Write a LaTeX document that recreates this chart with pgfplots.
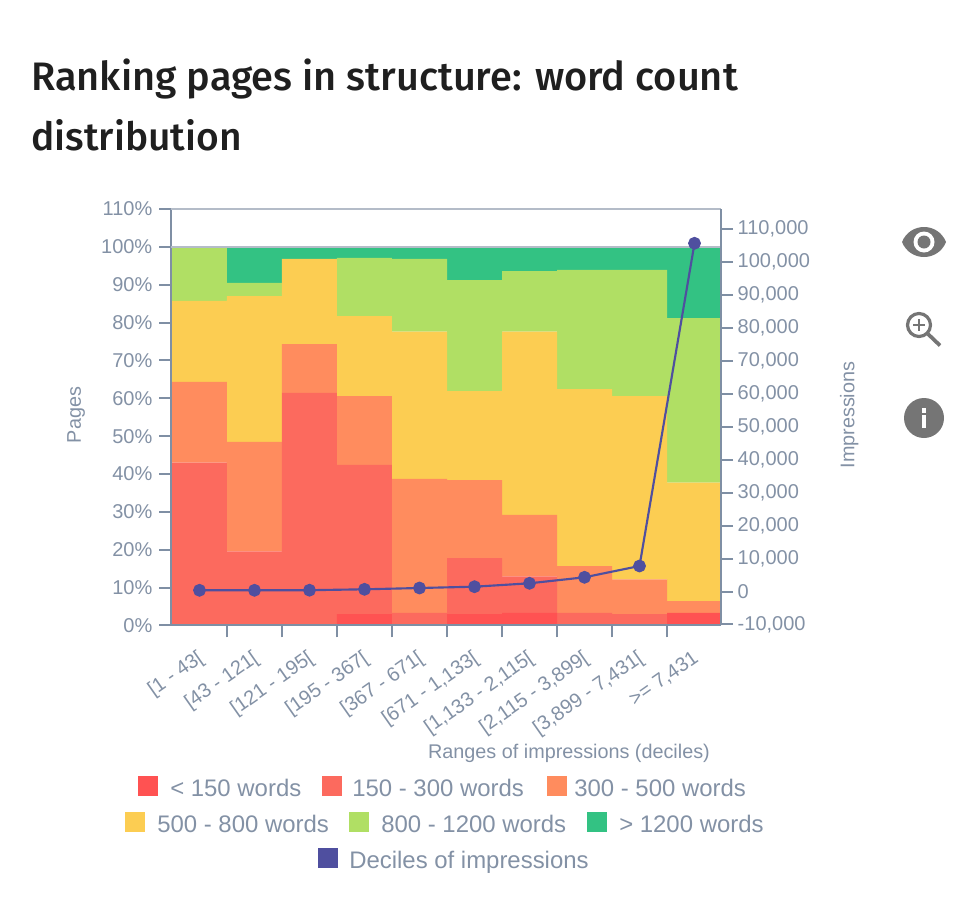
\documentclass[border=0pt]{standalone}
\usepackage{fontspec}
\setmainfont{Liberation Sans}
\newfontfamily\titlefont{Fira Sans Medium}
\usepackage{pgfplots}
\usepackage{pgfplotstable}
\pgfplotsset{compat=1.18}

\definecolor{axiscol}{HTML}{7F8FA4}
\definecolor{gridcol}{HTML}{B4BCC8}
\definecolor{textcol}{HTML}{8391A5}
\definecolor{iconcol}{HTML}{757575}
\definecolor{ca}{HTML}{FF5252}
\definecolor{cb}{HTML}{FC6A5E}
\definecolor{cc}{HTML}{FF8C5E}
\definecolor{cd}{HTML}{FCCD52}
\definecolor{ce}{HTML}{B0DF64}
\definecolor{cf}{HTML}{33C283}
\definecolor{cl}{HTML}{4F4F9F}

% shares per decile, percent of pages
\pgfplotstableread{
x a b c d e f
0 0 43.0 21.3 21.4 14.3 0
1 0 19.6 28.9 38.5 3.5 9.5
2 0 61.4 12.9 22.5 0 3.2
3 3.0 39.4 18.2 21.1 15.4 2.9
4 0 3.3 35.4 38.9 19.2 3.2
5 3.0 14.8 20.6 23.5 29.3 8.8
6 3.3 9.7 16.2 48.4 16.0 6.4
7 0 3.3 12.4 46.7 31.5 6.1
8 0 3.0 9.2 48.4 33.3 6.1
9 3.3 0 3.1 31.3 43.5 18.8
}\shares

\pgfplotstableread{
x v
0 370
1 370
2 400
3 670
4 1065
5 1460
6 2490
7 4310
8 7740
9 105610
}\deciles

\pgfplotsset{
  common/.style={
    scale only axis, width=412.5pt, height=312.4pt,
    at={(128.25pt,-469.1pt)}, anchor=south west,
    xmin=-0.518, xmax=9.482,
    tick align=outside,
    major tick length=9pt,
    axis line style={draw=axiscol,line width=1.5pt,-},
    every tick/.style={draw=axiscol,line width=1.5pt},
    tick label style={font=\fontsize{15}{17}\selectfont,text=textcol},
    label style={font=\fontsize{14.85}{17}\selectfont,text=textcol},
    /pgf/number format/assume math mode=true,
  },
}

\begin{document}
\begin{tikzpicture}
\begin{scope}[x=0.75pt,y=-0.75pt]
  \path[use as bounding box] (0,0) rectangle (980,918);
\end{scope}

\begin{axis}[common,
  ybar stacked, bar width=1,
  axis on top,
  axis y line*=left, axis x line*=bottom,
  ymin=0, ymax=110,
  ytick={0,10,20,30,40,50,60,70,80,90},
  yticklabel style={xshift=-1.5pt},
  extra y ticks={100,110},
  extra y tick style={ymajorgrids=true,major grid style={draw=gridcol,line width=1.5pt}},
  yticklabel={\pgfmathprintnumber{\tick}\%},
  extra y tick labels={100\%,110\%},
  xtick={0.5,1.5,2.5,3.5,4.5,5.5,6.5,7.5,8.5},
  xticklabels={},
  ylabel={Pages},
  ylabel style={at={(axis description cs:-0.1725,0.505)},anchor=center},
  xlabel={Ranges of impressions (deciles)},
  xlabel style={at={(axis description cs:0.7236,-0.306)},anchor=center},
]
  \addplot[fill=ca,draw=none] table[x=x,y=a] {\shares};
  \addplot[fill=cb,draw=none] table[x=x,y=b] {\shares};
  \addplot[fill=cc,draw=none] table[x=x,y=c] {\shares};
  \addplot[fill=cd,draw=none] table[x=x,y=d] {\shares};
  \addplot[fill=ce,draw=none] table[x=x,y=e] {\shares};
  \addplot[fill=cf,draw=none] table[x=x,y=f] {\shares};
\end{axis}

% category names sit between the tick marks
\begin{axis}[common,
  axis y line=none, axis x line*=bottom,
  ymin=0, ymax=110,
  major tick length=0pt,
  xtick={0,1,2,3,4,5,6,7,8,9},
  xticklabels={{[1 - 43[},{[43 - 121[},{[121 - 195[},{[195 - 367[},{[367 - 671[},{[671 - 1,133[},{[1,133 - 2,115[},{[2,115 - 3,899[},{[3,899 - 7,431[},{>= 7,431}},
  xticklabel style={rotate=35,anchor=base east,inner sep=0pt,xshift=-12pt,yshift=-24pt},
]
\end{axis}

\begin{axis}[common,
  axis y line*=right, axis x line=none,
  ymin=-10300, ymax=116030,
  ytick={-10000,0,10000,20000,30000,40000,50000,60000,70000,80000,90000,100000,110000},
  yticklabels={{-10,000},0,{10,000},{20,000},{30,000},{40,000},{50,000},{60,000},{70,000},{80,000},{90,000},{100,000},{110,000}},
  scaled y ticks=false,
  ylabel={Impressions},
  ylabel style={at={(axis description cs:1.233,0.505)},anchor=center,rotate=0},
  clip=false,
]
  \addplot[cl,line width=1.6pt,mark=*,mark size=4pt,mark options={fill=cl,draw=cl}] table[x=x,y=v] {\deciles};
\end{axis}

\begin{scope}[x=0.75pt,y=-0.75pt]
  % title
  \node[anchor=base west,inner sep=0pt,text=black!88] at (31,90) {\titlefont\fontsize{29.8}{32}\selectfont Ranking pages in structure: word count};
  \node[anchor=base west,inner sep=0pt,text=black!88] at (31,150) {\titlefont\fontsize{29.2}{32}\selectfont distribution};

  % legend
  \def\lfont{\fontsize{17.95}{20}\selectfont}
  \foreach \sx/\tx/\yy/\col/\lab in {
    138/170/786/ca/{< 150 words},
    322/352/786/cb/{150 - 300 words},
    547/574/786/cc/{300 - 500 words},
    125/157/822/cd/{500 - 800 words},
    349/381/822/ce/{800 - 1200 words},
    587/619/822/cf/{> 1200 words},
    318/349/858/cl/{Deciles of impressions}} {
    \fill[\col] (\sx,\yy-10) rectangle ++(20,20);
    \node[anchor=base west,inner sep=0pt,text=textcol,font=\lfont] at (\tx,\yy+10.5) {\lab};
  }

  % side icons
  \fill[iconcol] (902,242) .. controls (910,222) and (938,222) .. (946,242) .. controls (938,262) and (910,262) .. (902,242) -- cycle;
  \fill[white] (924,242) circle (10.5);
  \fill[iconcol] (924,242) circle (6.5);

  \draw[iconcol,line width=2.4pt] (919,325) circle (11.5);
  \draw[iconcol,line width=2.8pt] (928,334) -- (940,345.5);
  \draw[iconcol,line width=1.5pt] (913,325) -- (925,325) (919,319) -- (919,331);

  \fill[iconcol] (924,418) circle (20);
  \fill[white] (921.5,408) rectangle (926,412.5);
  \fill[white] (921.5,415) rectangle (926,428);
\end{scope}
\end{tikzpicture}
\end{document}
